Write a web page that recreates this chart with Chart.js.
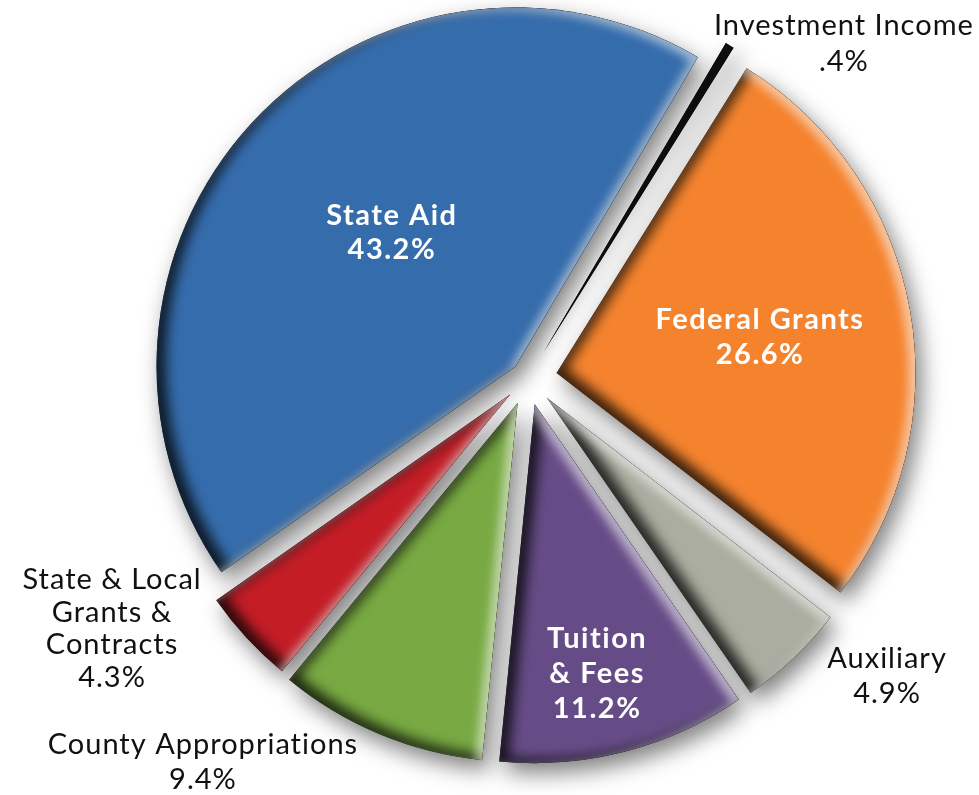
<!DOCTYPE html>
<html>
<head>
<meta charset="utf-8">
<script src="https://cdn.jsdelivr.net/npm/chart.js@4.4.0/dist/chart.umd.min.js"></script>
<style>
  html, body { margin: 0; padding: 0; background: #ffffff; }
  #wrap { width: 979px; height: 795px; }
</style>
</head>
<body>
<div id="wrap"><canvas id="c" width="979" height="795"></canvas></div>
<script>
// ---- data ----
const categories = ['State Aid', 'Investment Income', 'Federal Grants', 'Auxiliary',
                    'Tuition & Fees', 'County Appropriations', 'State & Local Grants & Contracts'];
const values = [43.2, 0.4, 26.6, 4.9, 11.2, 9.4, 4.3];
const percentLabels = ['43.2%', '.4%', '26.6%', '4.9%', '11.2%', '9.4%', '4.3%'];
const labelLines = [['State Aid'], ['Investment Income'], ['Federal Grants'], ['Auxiliary'],
                    ['Tuition', '& Fees'], ['County Appropriations'], ['State & Local', 'Grants &', 'Contracts']];

// ---- styles / layout ----
const colors = ['#356cac', '#0d0d0d', '#f5832e', '#aaad9f', '#664c87', '#78a942', '#c41d26'];
const explode = [17, 30, 29, 27, 27, 27, 24];
// label placement: angle (deg clockwise from top) and distance (fraction of radius) from pie centre
const labelPlacement = [
  { a: 317.1, r: 0.557, inside: true,  lh: 34.5 },
  { a: 43.3,  r: 1.283, inside: false, lh: 36 },
  { a: 79.7,  r: 0.657, inside: true,  lh: 34.5 },
  { a: 129.6, r: 1.298, inside: false, lh: 35 },
  { a: 166.8, r: 0.843, inside: true,  lh: 35 },
  { a: 220.3, r: 1.400, inside: false, lh: 35 },
  { a: 239.05, r: 1.351, inside: false, lh: 32.5 }
];
const FONT = 'Lato, "Open Sans", sans-serif';
const FONT_SIZE = 29;

function shift(c, arc, d) {
  const m = (arc.startAngle + arc.endAngle) / 2;
  c.translate(Math.cos(m) * d, Math.sin(m) * d);
}

const explodePlugin = {
  id: 'explode',
  beforeDatasetDraw(chart, args) {
    const ctx = chart.ctx;
    const arcs = args.meta.data;
    const W = chart.canvas.width, H = chart.canvas.height;
    // drop shadows
    ctx.save();
    ctx.shadowColor = 'rgba(0,0,0,0.5)';
    ctx.shadowBlur = 22;
    ctx.shadowOffsetX = 6;
    ctx.shadowOffsetY = 10;
    arcs.forEach((arc, i) => { ctx.save(); shift(ctx, arc, explode[i]); arc.draw(ctx); ctx.restore(); });
    ctx.restore();
    // bevelled slices on top
    arcs.forEach((arc, i) => {
      const off = document.createElement('canvas'); off.width = W; off.height = H;
      const o = off.getContext('2d');
      o.save(); shift(o, arc, explode[i]); arc.draw(o); o.restore();
      if (arc.endAngle - arc.startAngle > 0.1) {
        const out = document.createElement('canvas'); out.width = W; out.height = H;
        const q = out.getContext('2d');
        q.fillStyle = '#000'; q.fillRect(0, 0, W, H);
        q.globalCompositeOperation = 'destination-out';
        q.drawImage(off, 0, 0);
        o.globalCompositeOperation = 'source-atop';
        o.shadowColor = 'rgba(0,0,0,0.8)'; o.shadowBlur = 13; o.shadowOffsetX = 9; o.shadowOffsetY = -4;
        o.drawImage(out, 0, 0);
        o.shadowColor = 'rgba(255,255,255,0.55)'; o.shadowBlur = 10; o.shadowOffsetX = -7; o.shadowOffsetY = 3;
        o.drawImage(out, 0, 0);
      }
      ctx.drawImage(off, 0, 0);
    });
    return false;
  }
};

const labelPlugin = {
  id: 'sliceLabels',
  afterDraw(chart) {
    const ctx = chart.ctx;
    const arcs = chart.getDatasetMeta(0).data;
    ctx.save();
    ctx.textAlign = 'center';
    ctx.textBaseline = 'alphabetic';
    arcs.forEach((arc, i) => {
      const p = labelPlacement[i];
      const ang = (p.a - 90) * Math.PI / 180;
      const cx = arc.x + Math.cos(ang) * p.r * arc.outerRadius;
      const cy = arc.y + Math.sin(ang) * p.r * arc.outerRadius;
      const lines = labelLines[i].concat([percentLabels[i]]);
      ctx.font = (p.inside ? '700 ' : '400 ') + FONT_SIZE + 'px ' + FONT;
      ctx.letterSpacing = p.inside ? '1.5px' : '1px';
      ctx.fillStyle = p.inside ? '#ffffff' : '#111111';
      const top = cy - (lines.length - 1) * p.lh / 2;
      lines.forEach((t, k) => {
        ctx.fillText(t, cx, top + k * p.lh + FONT_SIZE * 0.36);
      });
    });
    ctx.restore();
  }
};

new Chart(document.getElementById('c'), {
  type: 'pie',
  data: {
    labels: categories,
    datasets: [{
      data: values,
      backgroundColor: colors,
      borderWidth: 0,
      offset: 0
    }]
  },
  options: {
    responsive: false,
    animation: false,
    rotation: -125,
    radius: 359,
    layout: { padding: { left: 77, right: 0, top: 0, bottom: 39 } },
    plugins: {
      legend: { display: false },
      tooltip: { enabled: false }
    }
  },
  plugins: [explodePlugin, labelPlugin]
});
</script>
</body>
</html>
